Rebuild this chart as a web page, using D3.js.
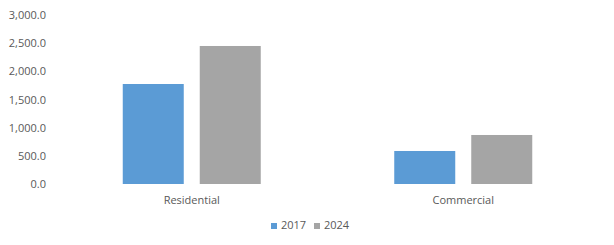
<!DOCTYPE html>
<html>
<head>
<meta charset="utf-8">
<script src="https://cdn.jsdelivr.net/npm/d3@7"></script>
<style>
  body { margin: 0; background: #fff; }
  text { font-family: "Open Sans", "Liberation Sans", sans-serif; fill: #595959; }
</style>
</head>
<body>
<div id="chart"></div>
<script>
// chart values
var categories = ["Residential", "Commercial"];
var years = ["2017", "2024"];
var values2017 = [1775, 586];
var values2024 = [2450, 870];
var yTicks = [0, 500, 1000, 1500, 2000, 2500, 3000];
var colors = ["#5B9BD5", "#A5A5A5"];

var width = 614, height = 245;
var plot = {left: 56, right: 599, top: 15, bottom: 184};

var svg = d3.select("#chart").append("svg")
    .attr("width", width)
    .attr("height", height);

var y = d3.scaleLinear()
    .domain([0, 3000])
    .range([plot.bottom, plot.top]);

var x = d3.scaleBand()
    .domain(categories)
    .range([plot.left, plot.right]);

//inner band for the two years: bars 61px wide with 16px between
var x1 = d3.scaleBand()
    .domain(years)
    .range([0, 138])
    .paddingInner(16 / 77);

//y labels only, no gridlines
var yAxis = svg.append("g")
    .attr("transform", "translate(46,0)")
    .call(d3.axisLeft(y).tickValues(yTicks).tickSize(0).tickPadding(0)
        .tickFormat(function (d) { return d3.format(",.1f")(d); }));
yAxis.select(".domain").remove();
yAxis.selectAll("text").style("font-size", "11px").attr("fill", "#595959");

var series = [values2017, values2024];

var group = svg.selectAll(".cat")
    .data(categories)
    .enter().append("g")
    .attr("class", "cat")
    .attr("transform", function (d) {
        return "translate(" + (x(d) + x.bandwidth() / 2 - 69) + ",0)";
    });

group.selectAll("rect")
    .data(function (d, i) {
        return years.map(function (yr, j) { return {year: yr, value: series[j][i], idx: j}; });
    })
    .enter().append("rect")
    .attr("x", function (d) { return x1(d.year); })
    .attr("width", x1.bandwidth())
    .attr("y", function (d) { return y(d.value); })
    .attr("height", function (d) { return plot.bottom - y(d.value); })
    .attr("fill", function (d) { return colors[d.idx]; });

//category labels
svg.selectAll(".catLabel")
    .data(categories)
    .enter().append("text")
    .attr("class", "catLabel")
    .attr("x", function (d) { return x(d) + x.bandwidth() / 2; })
    .attr("y", 204)
    .attr("text-anchor", "middle")
    .style("font-size", "11px")
    .text(function (d) { return d; });

//legend
var legend = svg.append("g").attr("transform", "translate(271,229)");
var legendX = [0, 43];
years.forEach(function (yr, i) {
    legend.append("rect")
        .attr("x", legendX[i])
        .attr("y", -6)
        .attr("width", 6)
        .attr("height", 6)
        .attr("fill", colors[i]);
    legend.append("text")
        .attr("x", legendX[i] + 10)
        .attr("y", 0)
        .style("font-size", "11px")
        .text(yr);
});
</script>
</body>
</html>
